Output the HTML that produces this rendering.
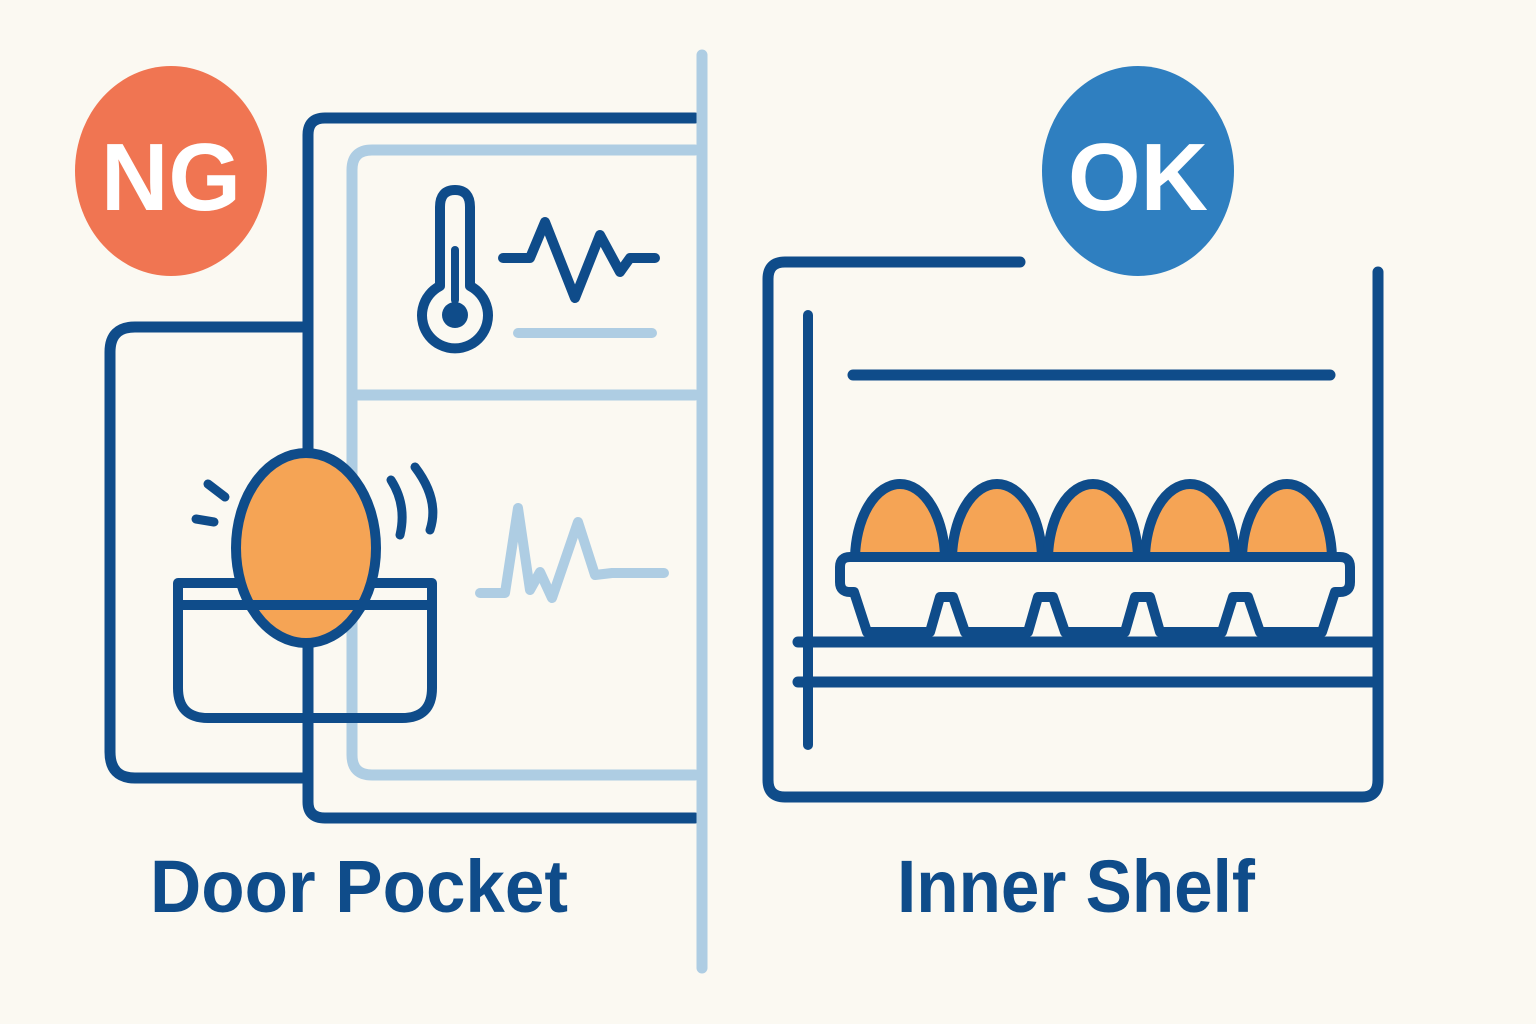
<!DOCTYPE html>
<html><head><meta charset="utf-8"><style>
html,body{margin:0;padding:0;background:#fbf9f2;}
svg{display:block}
</style></head><body>
<svg width="1536" height="1024" viewBox="0 0 1536 1024" xmlns="http://www.w3.org/2000/svg">
<rect width="1536" height="1024" fill="#fbf9f2"/>
<defs><clipPath id="top"><rect x="0" y="0" width="1536" height="556"/></clipPath></defs>
<g fill="none" stroke-linecap="round" stroke-linejoin="round">
<path d="M305 327 H135 Q110 327 110 352 V752 Q110 778 135 778 H305" stroke="#0f4c8a" stroke-width="11"/>
<path d="M695 150 H372 Q352 150 352 170 V755 Q352 775 372 775 H695" stroke="#aecde3" stroke-width="11"/>
<line x1="358" y1="395" x2="695" y2="395" stroke="#aecde3" stroke-width="11"/>
<path d="M695 118 H325 Q308 118 308 135 V802 Q308 818 325 818 H695" stroke="#0f4c8a" stroke-width="11"/>
<line x1="702" y1="55" x2="702" y2="968" stroke="#aecde3" stroke-width="11"/>
<path d="M440 286 V207 Q440 190 455 190 Q470 190 470 207 V286 A33 33 0 1 1 440 286 Z" stroke="#0f4c8a" stroke-width="10"/>
<circle cx="455" cy="315" r="13" fill="#0f4c8a" stroke="none"/>
<line x1="455" y1="300" x2="455" y2="250" stroke="#0f4c8a" stroke-width="8"/>
<polyline points="503,258 530,258 545,222 575,298 600,235 620,272 630,258 655,258" stroke="#0f4c8a" stroke-width="10"/>
<line x1="518" y1="333" x2="652" y2="333" stroke="#aecde3" stroke-width="10"/>
<polyline points="480,593 505,593 518,508 530,590 540,572 552,598 578,522 595,575 612,573 664,573" stroke="#aecde3" stroke-width="10"/>
<path d="M178 583 H432 V688 Q432 718 402 718 H208 Q178 718 178 688 Z" stroke="#0f4c8a" stroke-width="10"/>
<ellipse cx="306" cy="548" rx="70" ry="95" fill="#f5a455" stroke="#0f4c8a" stroke-width="10"/>
<line x1="178" y1="605" x2="432" y2="605" stroke="#0f4c8a" stroke-width="10"/>
<line x1="308" y1="645" x2="308" y2="720" stroke="#0f4c8a" stroke-width="10"/>
<line x1="208" y1="484" x2="225" y2="497" stroke="#0f4c8a" stroke-width="9"/>
<line x1="196" y1="519" x2="214" y2="522" stroke="#0f4c8a" stroke-width="9"/>
<path d="M391 480 Q407 505 400 535" stroke="#0f4c8a" stroke-width="9"/>
<path d="M415 467 Q440 500 430 530" stroke="#0f4c8a" stroke-width="9"/>
<path d="M1020 262 H785 Q768 262 768 279 V780 Q768 797 785 797 H1362 Q1378 797 1378 780 V272" stroke="#0f4c8a" stroke-width="11"/>
<line x1="808" y1="315" x2="808" y2="745" stroke="#0f4c8a" stroke-width="10"/>
<line x1="853" y1="375" x2="1330" y2="375" stroke="#0f4c8a" stroke-width="11"/>
<line x1="798" y1="642" x2="1372" y2="642" stroke="#0f4c8a" stroke-width="11"/>
<line x1="798" y1="682" x2="1372" y2="682" stroke="#0f4c8a" stroke-width="11"/>
<g clip-path="url(#top)" fill="#f5a455" stroke="#0f4c8a" stroke-width="10">
<ellipse cx="900" cy="560" rx="45" ry="76"/>
<ellipse cx="997" cy="560" rx="45" ry="76"/>
<ellipse cx="1093" cy="560" rx="45" ry="76"/>
<ellipse cx="1190" cy="560" rx="45" ry="76"/>
<ellipse cx="1287" cy="560" rx="45" ry="76"/>
</g>
<path d="M850 557 H1340 Q1350 557 1350 567 V582 Q1350 592 1340 592 H1335 L1322 632 H1260 L1248 597 H1233 L1222 632 H1160 L1150 597 H1135 L1125 632 H1065 L1053 597 H1038 L1028 632 H965 L953 597 H940 L930 632 H867 L854 592 H850 Q840 592 840 582 V567 Q840 557 850 557 Z" fill="#fbf9f2" stroke="#0f4c8a" stroke-width="10"/>
</g>
<ellipse cx="171" cy="171" rx="96" ry="105" fill="#f07552"/>
<text x="171" y="210" text-anchor="middle" font-family="Liberation Sans, sans-serif" font-weight="bold" font-size="96" fill="#fff" textLength="140" lengthAdjust="spacingAndGlyphs">NG</text>
<ellipse cx="1138" cy="171" rx="96" ry="105" fill="#2f7fc0"/>
<text x="1138" y="210" text-anchor="middle" font-family="Liberation Sans, sans-serif" font-weight="bold" font-size="96" fill="#fff" textLength="140" lengthAdjust="spacingAndGlyphs">OK</text>
<text x="150" y="912" font-family="Liberation Sans, sans-serif" font-weight="bold" font-size="74" fill="#0f4c8a" textLength="418" lengthAdjust="spacingAndGlyphs">Door Pocket</text>
<text x="897" y="912" font-family="Liberation Sans, sans-serif" font-weight="bold" font-size="74" fill="#0f4c8a" textLength="358" lengthAdjust="spacingAndGlyphs">Inner Shelf</text>
</svg>
</body></html>
